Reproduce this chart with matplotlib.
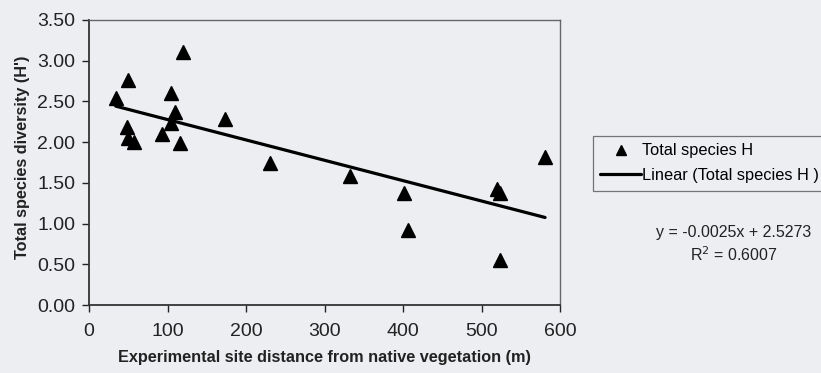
import numpy as np
import matplotlib
matplotlib.use('Agg')
import matplotlib.pyplot as plt

plt.rcParams['font.family'] = ['Liberation Sans', 'DejaVu Sans']

# site distance from native vegetation (m) and total species diversity H'
dist = [34, 50, 49, 50, 57, 93, 105, 109, 104, 116, 120, 173, 231, 332, 401, 407, 520, 524, 524, 581]
H = [2.54, 2.76, 2.19, 2.05, 2.00, 2.10, 2.60, 2.37, 2.23, 1.99, 3.11, 2.28, 1.74, 1.58, 1.37, 0.92, 1.43, 1.37, 0.55, 1.82]

# linear trend
slope = -0.0025
intercept = 2.5273
r2 = 0.6007

xticks = [0, 100, 200, 300, 400, 500, 600]
yticks = [0.0, 0.5, 1.0, 1.5, 2.0, 2.5, 3.0, 3.5]

bg = '#eceef2'
fig = plt.figure(figsize=(8.21, 3.73), dpi=100, facecolor=bg)
ax = fig.add_axes([89/821, 1 - 305/373, 471/821, 285/373], facecolor=bg)

pts, = ax.plot(dist, H, linestyle='none', marker='^', markersize=9.5,
               color='black', label='Total species H')
xs = np.array([min(dist), max(dist)])
trend, = ax.plot(xs, slope * xs + intercept, color='black', lw=2.3,
                 solid_capstyle='round', label='Linear (Total species H )')

ax.set_xlim(0, 600)
ax.set_ylim(0, 3.5)
ax.set_xticks(xticks)
ax.set_yticks(yticks)
ax.set_yticklabels([f'{v:.2f}' for v in yticks])
ax.tick_params(labelsize=14, colors='#222222', length=5, width=1, pad=5)
ax.tick_params(axis='x', pad=8)
for s in ['left', 'bottom']:
    ax.spines[s].set_color('#333333')
    ax.spines[s].set_linewidth(1.3)
for s in ['top', 'right']:
    ax.spines[s].set_color('#666666')
    ax.spines[s].set_linewidth(1.0)

ax.set_xlabel('Experimental site distance from native vegetation (m)',
              fontsize=11.7, fontweight='bold', color='#222222', labelpad=7)
ax.set_ylabel("Total species diversity (H')", fontsize=11.7,
              fontweight='bold', color='#222222')
ax.yaxis.set_label_coords(-0.125, 0.517)

leg = fig.legend(handles=[pts, trend], loc='upper left',
                 bbox_to_anchor=(593/821, 1 - 136/373), borderaxespad=0,
                 fontsize=11.8, frameon=True, fancybox=False,
                 handlelength=2.5, handletextpad=0.05, borderpad=0.45,
                 labelspacing=0.6, markerscale=0.75)
leg.get_frame().set_edgecolor('#555555')
leg.get_frame().set_facecolor(bg)
leg.get_frame().set_linewidth(0.9)

fig.text(734/821, 1 - 232/373, f'y = {slope:.4f}x + {intercept:.4f}',
         ha='center', va='center', fontsize=11.5, color='#222222')
fig.text(734/821, 1 - 255/373, f'R$^2$ = {r2:.4f}',
         ha='center', va='center', fontsize=11.5, color='#222222')

fig.savefig('out.png', dpi=100, facecolor=bg)
